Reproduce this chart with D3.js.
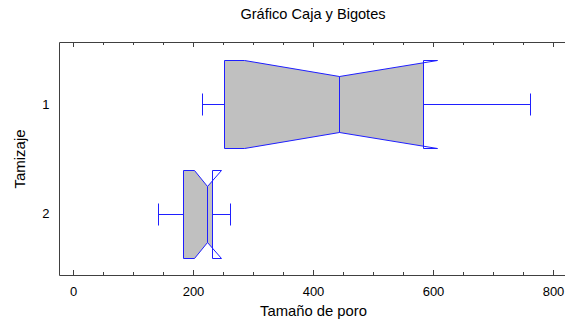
<!DOCTYPE html>
<html>
<head>
<meta charset="utf-8">
<script src="https://cdn.jsdelivr.net/npm/d3@7"></script>
<style>
  body { margin: 0; background: #fff; }
  svg { display: block; font-family: Arial, "Liberation Sans", sans-serif; }
</style>
</head>
<body>
<svg id="canvas" width="565" height="323"></svg>
<script>
// values
let categories = ["1", "2"]
let minVals = [215, 142]
let q1Vals = [252, 184]
let medianVals = [444, 224]
let q3Vals = [584, 232]
let maxVals = [762, 262]
let notchLo = [285, 202]
let notchHi = [607, 247]
let majorTicks = [0, 200, 400, 600, 800]
let minorTicks = d3.range(0, 801, 50)

let canvas = d3.select('#canvas')

let plotLeft = 59.5, plotRight = 566, plotTop = 42.5, plotBottom = 275.5

let x = d3.scaleLinear().domain([-23.5, 821.5]).range([58.9, 565.9])
let y = d3.scalePoint().domain(categories).range([plotTop, plotBottom]).padding(0.5625)

let px = v => Math.round(x(v)) + 0.5
let blue = "#1f1fff"

// frame
canvas.append('path')
  .attr('d', `M${plotRight},${plotTop}H${plotLeft}V${plotBottom}H${plotRight}`)
  .attr('fill', 'none')
  .attr('stroke', '#404040')

// ticks, bottom and top
let axisG = canvas.append('g').attr('class', 'axes')
axisG.append('g').attr('transform', `translate(0,${plotBottom - 0.5})`)
  .call(d3.axisBottom(x).tickValues(minorTicks).tickSize(-3).tickFormat(''))
axisG.append('g').attr('transform', `translate(0,${plotBottom - 0.5})`)
  .call(d3.axisBottom(x).tickValues(majorTicks).tickSize(-5).tickPadding(12))
axisG.append('g').attr('transform', `translate(0,${plotTop - 0.5})`)
  .call(d3.axisTop(x).tickValues(minorTicks).tickSize(-3).tickFormat(''))
axisG.append('g').attr('transform', `translate(0,${plotTop - 0.5})`)
  .call(d3.axisTop(x).tickValues(majorTicks).tickSize(-5).tickFormat(''))
axisG.append('g').attr('transform', `translate(${plotLeft},0)`)
  .call(d3.axisLeft(y).tickSize(0).tickPadding(10))
axisG.selectAll('.domain').remove()
axisG.selectAll('.tick line').attr('stroke', '#404040')
axisG.selectAll('.tick text').attr('font-size', 13).attr('fill', '#000')
  .attr('font-family', 'Arial, "Liberation Sans", sans-serif')

// titles
canvas.append('text').attr('x', 313).attr('y', 18.5)
  .attr('text-anchor', 'middle').attr('font-size', 14.6)
  .text('Gráfico Caja y Bigotes')
canvas.append('text').attr('x', 313.5).attr('y', 316)
  .attr('text-anchor', 'middle').attr('font-size', 14.8)
  .text('Tamaño de poro')
canvas.append('text').attr('transform', 'translate(25,159) rotate(-90)')
  .attr('text-anchor', 'middle').attr('font-size', 15)
  .text('Tamizaje')

// boxes
let boxes = categories.map((c, i) => ({
  cat: c, min: minVals[i], q1: q1Vals[i], med: medianVals[i], q3: q3Vals[i],
  max: maxVals[i], lo: notchLo[i], hi: notchHi[i]
}))

let h = Math.round(y.step() * 0.4)
let w = Math.round(h * 0.63)
let capH = 11

let defs = canvas.append('defs')
boxes.forEach((d, i) => {
  defs.append('clipPath').attr('id', 'clip' + i)
    .append('rect')
    .attr('x', px(d.q1)).attr('y', 0)
    .attr('width', px(d.q3) - px(d.q1)).attr('height', 323)
})

let notchPath = d => {
  let yc = Math.round(y(d.cat)) + 0.5
  let pts = [
    [px(d.q1), yc - h], [px(d.lo), yc - h], [px(d.med), yc - w], [px(d.hi), yc - h],
    [px(d.q3), yc - h], [px(d.q3), yc + h], [px(d.hi), yc + h], [px(d.med), yc + w],
    [px(d.lo), yc + h], [px(d.q1), yc + h]
  ]
  return 'M' + pts.map(p => p.join(',')).join('L') + 'Z'
}

let g = canvas.append('g').attr('class', 'boxes')
  .selectAll('g').data(boxes).enter().append('g')

g.append('path')
  .attr('d', notchPath)
  .attr('fill', '#c0c0c0')
  .attr('clip-path', (d, i) => `url(#clip${i})`)

g.append('path')
  .attr('d', notchPath)
  .attr('fill', 'none')
  .attr('stroke', blue)

// median
g.append('line')
  .attr('x1', d => px(d.med)).attr('x2', d => px(d.med))
  .attr('y1', d => Math.round(y(d.cat)) + 0.5 - w)
  .attr('y2', d => Math.round(y(d.cat)) + 0.5 + w)
  .attr('stroke', blue)

// whiskers
g.append('path')
  .attr('d', d => {
    let yc = Math.round(y(d.cat)) + 0.5
    return `M${px(d.min)},${yc}H${px(d.q1)}M${px(d.q3)},${yc}H${px(d.max)}` +
      `M${px(d.min)},${yc - capH}V${yc + capH}M${px(d.max)},${yc - capH}V${yc + capH}`
  })
  .attr('fill', 'none')
  .attr('stroke', blue)
</script>
</body>
</html>
